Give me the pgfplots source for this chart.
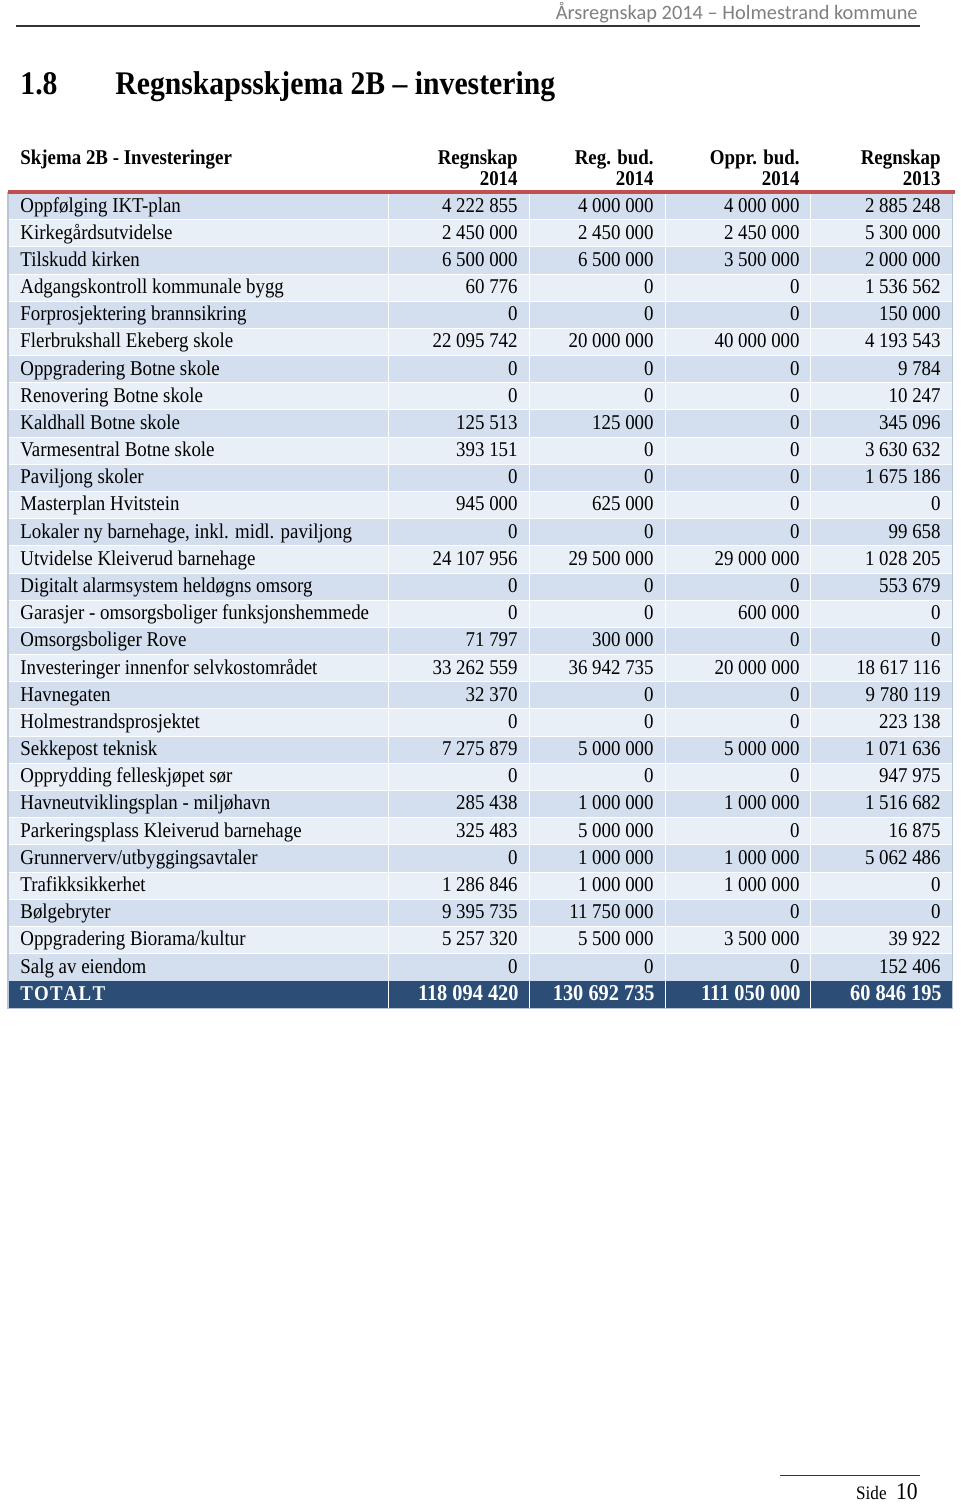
\documentclass[border=0pt]{standalone}
\usepackage{fontspec}
\setmainfont{Liberation Serif}[FakeStretch=0.9]
\newfontfamily\calibri{Carlito}
\usepackage{pgfplots}
\usepackage{pgfplotstable}
\pgfplotsset{compat=1.18}
\definecolor{RowDark}{HTML}{D3DFEE}
\definecolor{RowLight}{HTML}{E9EFF7}
\definecolor{TotalBlue}{HTML}{2C4D75}
\definecolor{RedLine}{HTML}{C0504D}
\definecolor{EdgeGrey}{HTML}{B8C4D4}
\definecolor{HeadGrey}{HTML}{7F7F7F}

\pgfplotstableread[col sep=semicolon]{
row;name;a;b;c;d
1;Oppfølging IKT-plan;4 222 855;4 000 000;4 000 000;2 885 248
2;Kirkegårdsutvidelse;2 450 000;2 450 000;2 450 000;5 300 000
3;Tilskudd kirken;6 500 000;6 500 000;3 500 000;2 000 000
4;Adgangskontroll kommunale bygg;60 776;0;0;1 536 562
5;Forprosjektering brannsikring;0;0;0;150 000
6;Flerbrukshall Ekeberg skole;22 095 742;20 000 000;40 000 000;4 193 543
7;Oppgradering Botne skole;0;0;0;9 784
8;Renovering Botne skole;0;0;0;10 247
9;Kaldhall Botne skole;125 513;125 000;0;345 096
10;Varmesentral Botne skole;393 151;0;0;3 630 632
11;Paviljong skoler;0;0;0;1 675 186
12;Masterplan Hvitstein;945 000;625 000;0;0
13;Lokaler ny barnehage, inkl. midl. paviljong;0;0;0;99 658
14;Utvidelse Kleiverud barnehage;24 107 956;29 500 000;29 000 000;1 028 205
15;Digitalt alarmsystem heldøgns omsorg;0;0;0;553 679
16;Garasjer - omsorgsboliger funksjonshemmede;0;0;600 000;0
17;Omsorgsboliger Rove;71 797;300 000;0;0
18;Investeringer innenfor selvkostområdet;33 262 559;36 942 735;20 000 000;18 617 116
19;Havnegaten;32 370;0;0;9 780 119
20;Holmestrandsprosjektet;0;0;0;223 138
21;Sekkepost teknisk;7 275 879;5 000 000;5 000 000;1 071 636
22;Opprydding felleskjøpet sør;0;0;0;947 975
23;Havneutviklingsplan - miljøhavn;285 438;1 000 000;1 000 000;1 516 682
24;Parkeringsplass Kleiverud barnehage;325 483;5 000 000;0;16 875
25;Grunnerverv/utbyggingsavtaler;0;1 000 000;1 000 000;5 062 486
26;Trafikksikkerhet;1 286 846;1 000 000;1 000 000;0
27;Bølgebryter;9 395 735;11 750 000;0;0
28;Oppgradering Biorama/kultur;5 257 320;5 500 000;3 500 000;39 922
29;Salg av eiendom;0;0;0;152 406
}\investtab

\pgfplotstableread[col sep=semicolon]{
row;name;a;b;c;d
30;T O T A L T;118 094 420;130 692 735;111 050 000;60 846 195
}\totaltab

% row pitch in px, and baseline of the first row
\def\pitch{27.18}
\def\base{212}
\newcommand\totlabelfont{\fontsize{10.5}{12}\selectfont\bfseries\spaceskip=0.6pt\relax}

\pgfplotsset{
  cell/.style={draw=none, mark=none, nodes near coords, point meta=explicit symbolic,
    every node near coord/.append style={inner sep=0pt, font=\fontsize{10.5}{12}\selectfont}},
  totcell/.style={cell, every node near coord/.append style={text=white, font=\fontsize{11.3}{13}\selectfont\bfseries}},
}

\begin{document}
\begin{tikzpicture}
\begin{axis}[
  width=480pt, height=752pt, scale only axis,
  xmin=0, xmax=960, ymin=0, ymax=1504, y dir=reverse,
  hide axis, clip=false,
]
  % row backgrounds
  \pgfplotsinvokeforeach{1,3,...,29}{
    \fill[RowDark] (axis cs:8,{192.5+27.18*(#1-1)}) rectangle (axis cs:952,{192.5+27.18*#1});
  }
  \pgfplotsinvokeforeach{2,4,...,28}{
    \fill[RowLight] (axis cs:8,{192.5+27.18*(#1-1)}) rectangle (axis cs:952,{192.5+27.18*#1});
  }
  \pgfplotsinvokeforeach{1,...,28}{
    \draw[white, line width=0.5pt] (axis cs:8,{192.5+27.18*#1}) -- (axis cs:952,{192.5+27.18*#1});
  }
  \fill[TotalBlue] (axis cs:8,980.7) rectangle (axis cs:952,1007.9);
  \pgfplotsinvokeforeach{388.5,529.5,665.5,810.5}{
    \draw[white, line width=0.7pt] (axis cs:#1,192.5) -- (axis cs:#1,1007.9);
  }
  \draw[EdgeGrey, line width=0.6pt] (axis cs:8,192) -- (axis cs:8,1008.5) -- (axis cs:952.5,1008.5) -- (axis cs:952.5,192);
  \fill[RedLine] (axis cs:8,189.5) rectangle (axis cs:955,193.5);

  % labels and values
  \addplot[cell, every node near coord/.append style={anchor=base west}]
    table[x expr=20, y expr=\base+\pitch*(\thisrow{row}-1), meta=name] {\investtab};
  \addplot[cell, every node near coord/.append style={anchor=base east}]
    table[x expr=518, y expr=\base+\pitch*(\thisrow{row}-1), meta=a] {\investtab};
  \addplot[cell, every node near coord/.append style={anchor=base east}]
    table[x expr=654, y expr=\base+\pitch*(\thisrow{row}-1), meta=b] {\investtab};
  \addplot[cell, every node near coord/.append style={anchor=base east}]
    table[x expr=800, y expr=\base+\pitch*(\thisrow{row}-1), meta=c] {\investtab};
  \addplot[cell, every node near coord/.append style={anchor=base east}]
    table[x expr=941, y expr=\base+\pitch*(\thisrow{row}-1), meta=d] {\investtab};

  % total row
  \addplot[totcell, every node near coord/.append style={anchor=base west, font=\totlabelfont}]
    table[x expr=20, y expr=\base+\pitch*(\thisrow{row}-1), meta=name] {\totaltab};
  \addplot[totcell, every node near coord/.append style={anchor=base east}]
    table[x expr=519, y expr=\base+\pitch*(\thisrow{row}-1), meta=a] {\totaltab};
  \addplot[totcell, every node near coord/.append style={anchor=base east}]
    table[x expr=655, y expr=\base+\pitch*(\thisrow{row}-1), meta=b] {\totaltab};
  \addplot[totcell, every node near coord/.append style={anchor=base east}]
    table[x expr=801, y expr=\base+\pitch*(\thisrow{row}-1), meta=c] {\totaltab};
  \addplot[totcell, every node near coord/.append style={anchor=base east}]
    table[x expr=942, y expr=\base+\pitch*(\thisrow{row}-1), meta=d] {\totaltab};

  % column heads
  \begin{scope}[every node/.style={inner sep=0pt, font=\fontsize{10.5}{12}\selectfont\bfseries}]
    \node[anchor=base west] at (axis cs:20,164) {Skjema 2B - Investeringer};
    \node[anchor=base east] at (axis cs:518,164) {Regnskap};
    \node[anchor=base east] at (axis cs:518,185) {2014};
    \node[anchor=base east] at (axis cs:654,164) {Reg. bud.};
    \node[anchor=base east] at (axis cs:654,185) {2014};
    \node[anchor=base east] at (axis cs:800,164) {Oppr. bud.};
    \node[anchor=base east] at (axis cs:800,185) {2014};
    \node[anchor=base east] at (axis cs:941,164) {Regnskap};
    \node[anchor=base east] at (axis cs:941,185) {2013};
  \end{scope}

  % page title
  \node[anchor=base west, inner sep=0pt, font=\fontsize{16.5}{19}\selectfont\bfseries] at (axis cs:20,95) {1.8};
  \node[anchor=base west, inner sep=0pt, font=\fontsize{16.5}{19}\selectfont\bfseries] at (axis cs:115,95) {Regnskapsskjema 2B -- investering};

  % running head
  \node[anchor=base east, inner sep=0pt, text=HeadGrey, font=\calibri\fontsize{10.2}{12}\selectfont] at (axis cs:918,20) {Årsregnskap 2014 – Holmestrand kommune};
  \draw[black!80, line width=0.8pt] (axis cs:16,26) -- (axis cs:920,26);

  % footer
  \draw[black!80, line width=0.5pt] (axis cs:780,1475) -- (axis cs:920,1475);
  \node[anchor=base east, inner sep=0pt, font=\fontsize{9.5}{11}\selectfont] at (axis cs:887,1499) {Side};
  \node[anchor=base east, inner sep=0pt, font=\fontsize{12}{14}\selectfont] at (axis cs:918,1499) {10};
\end{axis}
\pgfresetboundingbox
\useasboundingbox (current axis.south west) rectangle (current axis.north east);
\end{tikzpicture}
\end{document}
